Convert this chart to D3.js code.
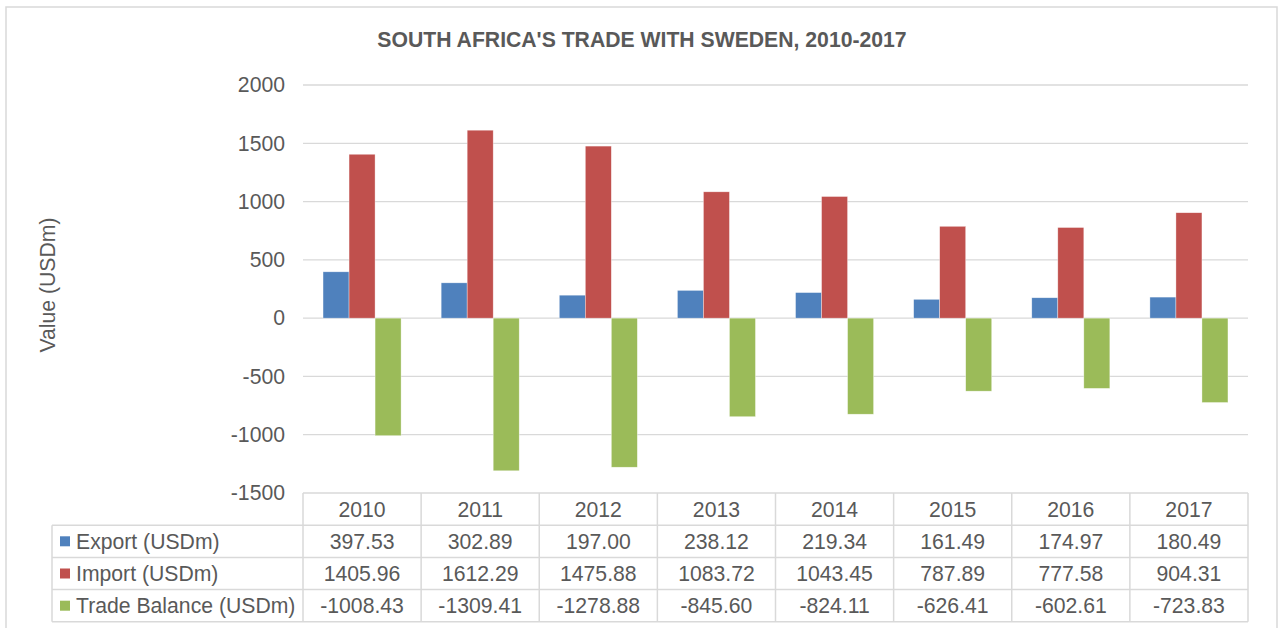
<!DOCTYPE html>
<html>
<head>
<meta charset="utf-8">
<script src="https://cdn.jsdelivr.net/npm/d3@7"></script>
<style>
  body { margin: 0; background: #fff; }
  text { font-family: "Liberation Sans", Arial, sans-serif; fill: #595959; }
</style>
</head>
<body>
<div id="chart"></div>
<script>
const years = ["2010", "2011", "2012", "2013", "2014", "2015", "2016", "2017"]
const seriesNames = ["Export (USDm)", "Import (USDm)", "Trade Balance (USDm)"]
const exportVals = [397.53, 302.89, 197.00, 238.12, 219.34, 161.49, 174.97, 180.49]
const importVals = [1405.96, 1612.29, 1475.88, 1083.72, 1043.45, 787.89, 777.58, 904.31]
const balanceVals = [-1008.43, -1309.41, -1278.88, -845.60, -824.11, -626.41, -602.61, -723.83]
const yTicks = [2000, 1500, 1000, 500, 0, -500, -1000, -1500]
const colors = ["#4f81bd", "#c0504d", "#9bbb59"]

const width = 1280
const height = 628
const margin = { top: 85, left: 303, right: 32, plotBottom: 493 }
const rowH = 32.2
const tableLeft = 52
const fontSize = 21.2

const values = [exportVals, importVals, balanceVals]
const data = years.map((yr, i) => ({ year: yr, vals: values.map(v => v[i]) }))

const svg = d3.select("div#chart").append("svg").attr("width", width).attr("height", height)

// outer border
svg.append("rect")
    .attr("x", 6).attr("y", 7)
    .attr("width", 1271).attr("height", 640)
    .attr("fill", "none").attr("stroke", "#d9d9d9").attr("stroke-width", 1.5)

svg.append("text")
    .attr("x", 642).attr("y", 47)
    .attr("text-anchor", "middle")
    .attr("font-size", fontSize).attr("font-weight", "bold")
    .text("SOUTH AFRICA'S TRADE WITH SWEDEN, 2010-2017")

const x = d3.scaleBand().domain(years).range([margin.left, width - margin.right])
const x1 = d3.scaleBand().domain(d3.range(3)).range([0, x.bandwidth()]).paddingOuter(0.77)
const y = d3.scaleLinear().domain([-1500, 2000]).range([margin.plotBottom, margin.top])

// gridlines
svg.append("g").selectAll("line").data(yTicks.filter(t => t !== -1500)).join("line")
    .attr("x1", margin.left).attr("x2", width - margin.right)
    .attr("y1", d => y(d)).attr("y2", d => y(d))
    .attr("stroke", "#d9d9d9").attr("stroke-width", 1.3)

const yAxis = d3.axisLeft(y).tickValues(yTicks).tickSize(0).tickPadding(18)
    .tickFormat(d => String(d))
svg.append("g").attr("transform", `translate(${margin.left}, 0)`).call(yAxis)
    .call(g => g.select(".domain").remove())
    .call(g => g.selectAll("text").attr("font-size", fontSize).attr("fill", "#595959")
        .attr("font-family", "Liberation Sans, Arial, sans-serif"))

svg.append("text")
    .attr("transform", "translate(48, 285) rotate(-90)")
    .attr("text-anchor", "middle").attr("dy", "0.35em")
    .attr("font-size", fontSize)
    .text("Value (USDm)")

// bars
const groups = svg.append("g").selectAll("g").data(data).join("g")
    .attr("transform", d => `translate(${x(d.year)}, 0)`)
groups.selectAll("rect").data(d => d.vals).join("rect")
    .attr("x", (d, i) => x1(i))
    .attr("width", x1.bandwidth())
    .attr("y", d => y(Math.max(0, d)))
    .attr("height", d => Math.abs(y(d) - y(0)))
    .attr("fill", (d, i) => colors[i])
    .attr("stroke", "#fff").attr("stroke-width", 0.6).attr("stroke-opacity", 0.6)

// data table
const table = svg.append("g")
const tableTop = margin.plotBottom
const tableRight = width - margin.right
const tableBottom = tableTop + rowH * 4

// horizontal lines
table.append("line").attr("x1", margin.left).attr("x2", tableRight).attr("y1", tableTop).attr("y2", tableTop)
d3.range(1, 5).forEach(r => {
    table.append("line").attr("x1", tableLeft).attr("x2", tableRight)
        .attr("y1", tableTop + rowH * r).attr("y2", tableTop + rowH * r)
})
// vertical lines
table.append("line").attr("x1", tableLeft).attr("x2", tableLeft).attr("y1", tableTop + rowH).attr("y2", tableBottom)
years.forEach(yr => {
    table.append("line").attr("x1", x(yr)).attr("x2", x(yr)).attr("y1", tableTop).attr("y2", tableBottom)
})
table.append("line").attr("x1", tableRight).attr("x2", tableRight).attr("y1", tableTop).attr("y2", tableBottom)
table.selectAll("line").attr("stroke", "#d9d9d9").attr("stroke-width", 1.5)

table.selectAll("text.year").data(years).join("text")
    .attr("class", "year")
    .attr("x", d => x(d) + x.bandwidth() / 2)
    .attr("y", tableTop + rowH / 2).attr("dy", "0.35em")
    .attr("text-anchor", "middle").attr("font-size", fontSize)
    .text(d => d)

const fmt = d3.format(".2f")
seriesNames.forEach((name, s) => {
    const cy = tableTop + rowH * (s + 1.5)
    table.append("rect")
        .attr("x", 60).attr("y", cy - 5).attr("width", 10).attr("height", 10)
        .attr("fill", colors[s])
    table.append("text")
        .attr("x", 76).attr("y", cy).attr("dy", "0.35em")
        .attr("font-size", fontSize).text(name)
    table.selectAll(`text.v${s}`).data(values[s]).join("text")
        .attr("class", `v${s}`)
        .attr("x", (d, i) => x(years[i]) + x.bandwidth() / 2)
        .attr("y", cy).attr("dy", "0.35em")
        .attr("text-anchor", "middle").attr("font-size", fontSize)
        .text(d => fmt(d).replace("−", "-"))
})
</script>
</body>
</html>
